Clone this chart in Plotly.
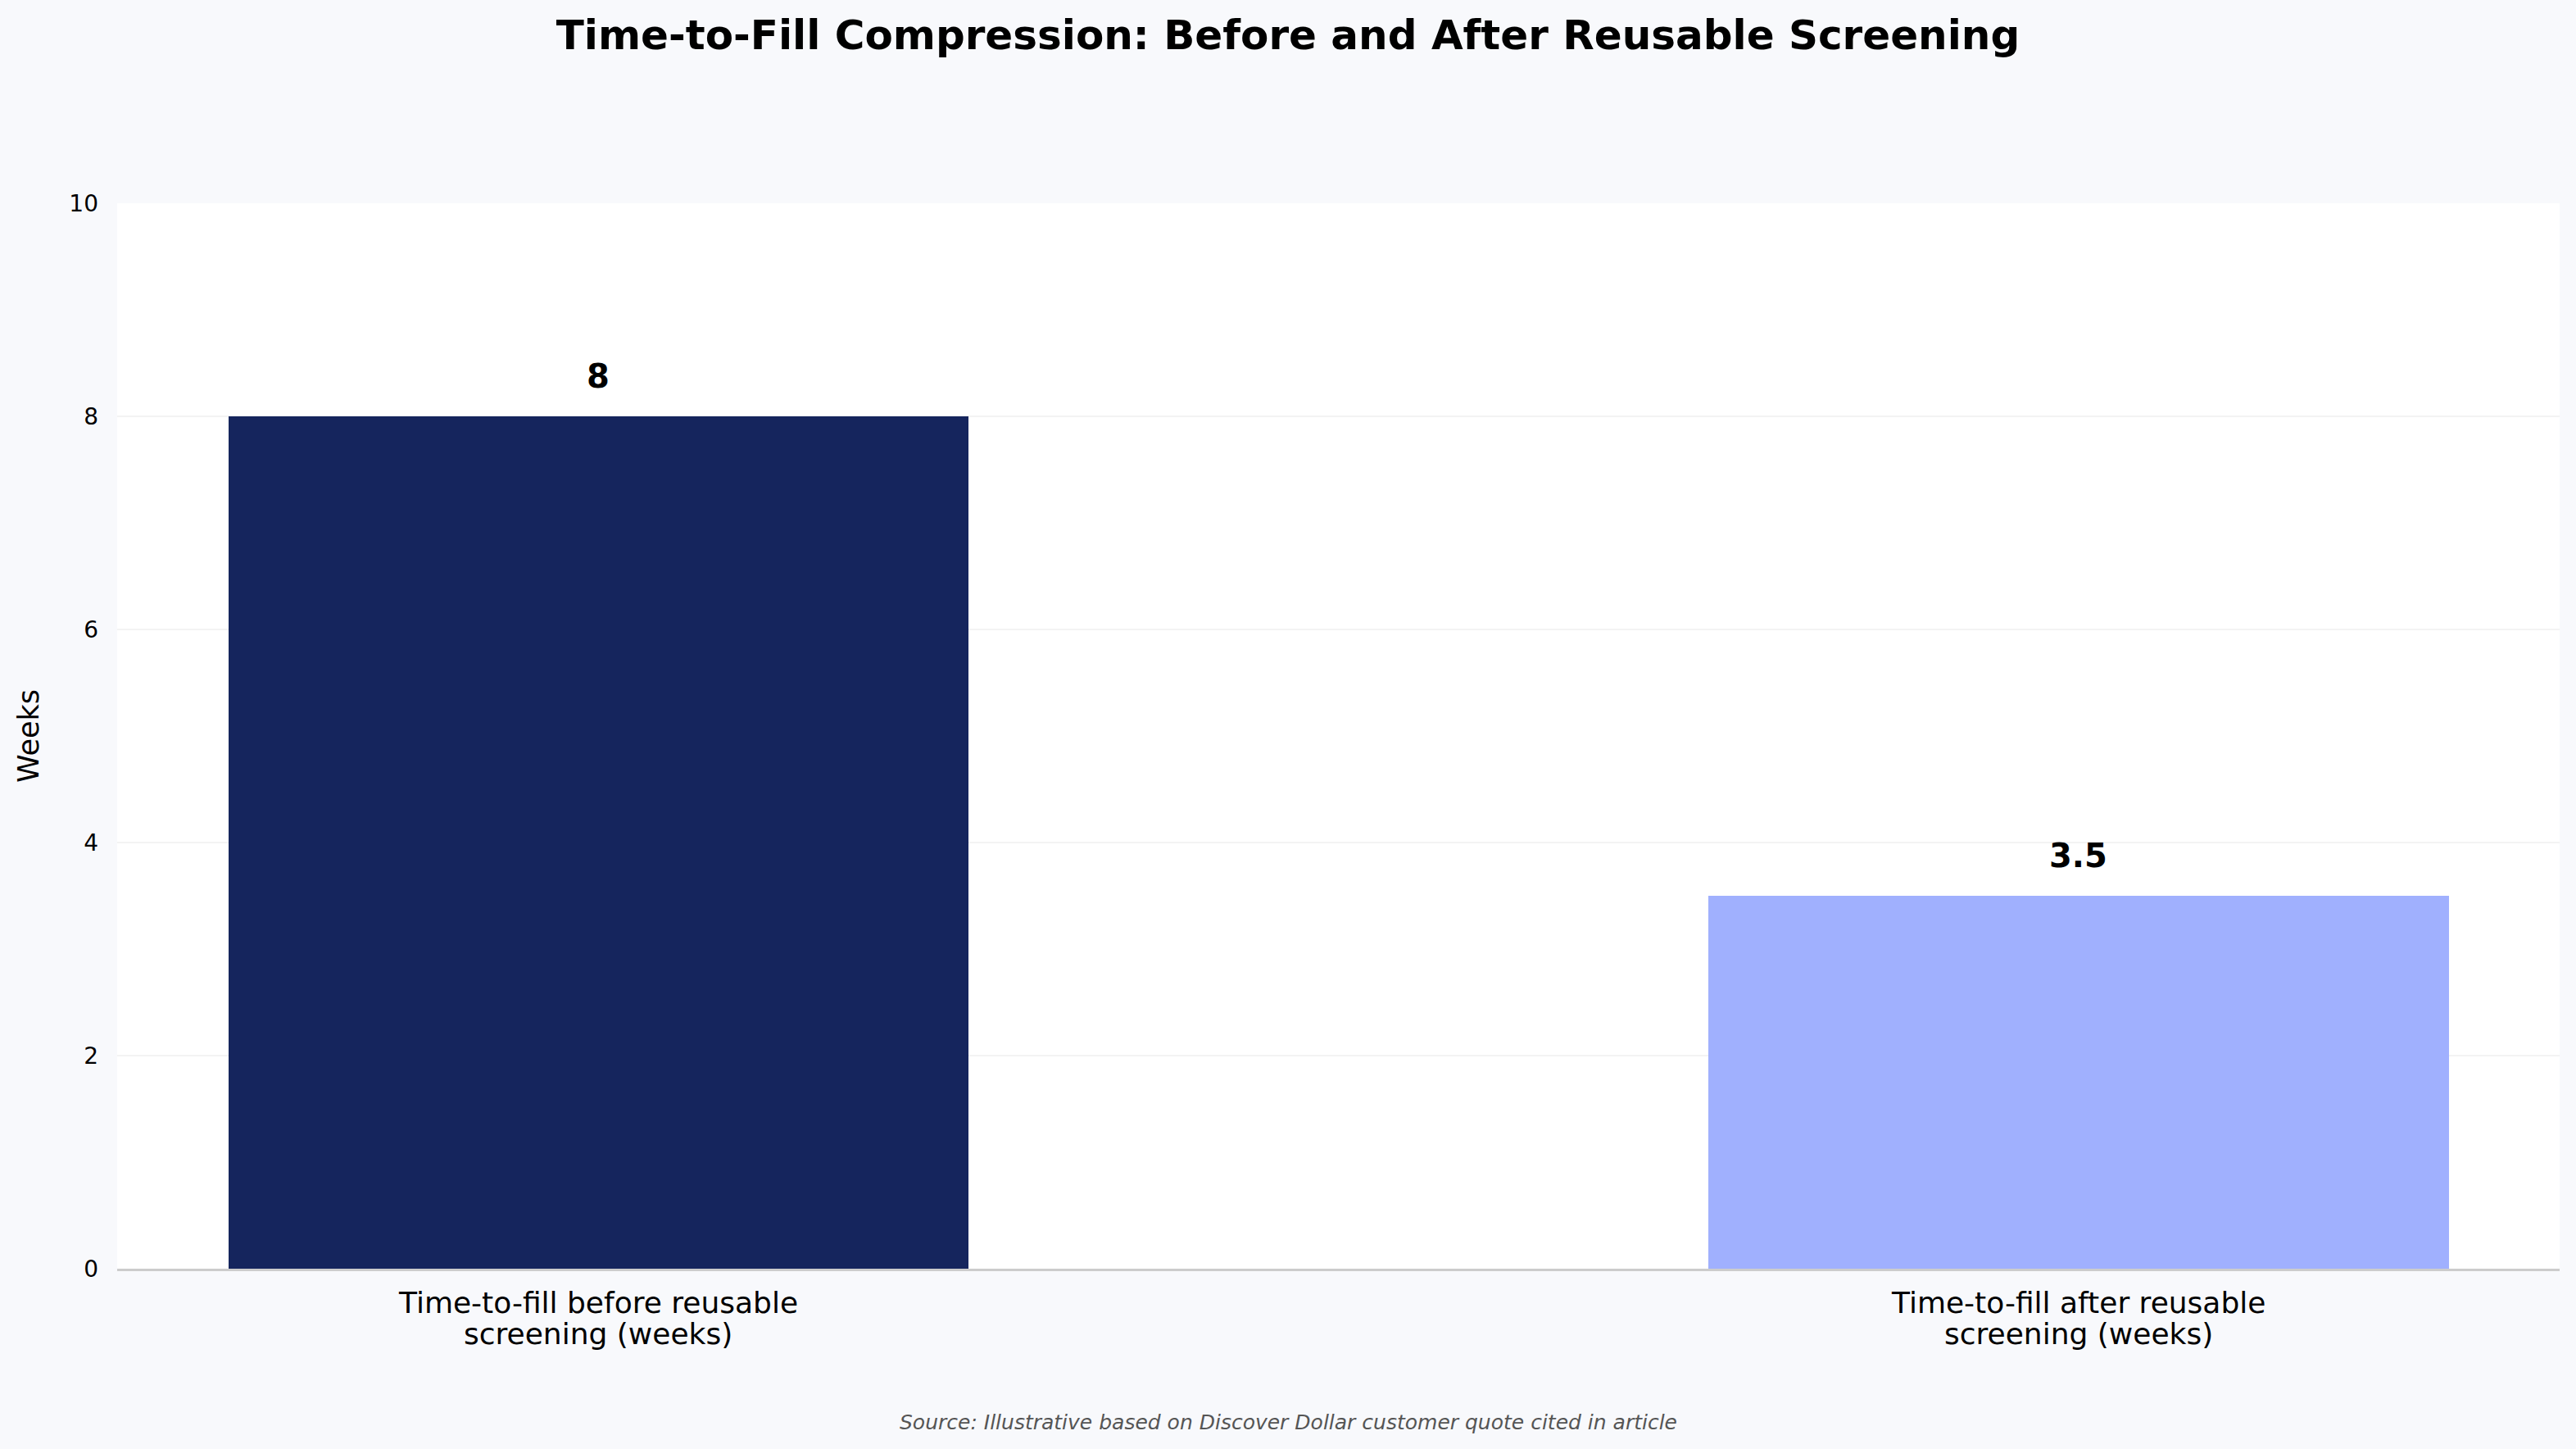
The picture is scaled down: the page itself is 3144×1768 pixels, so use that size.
import plotly.graph_objects as go

category_lines = [["Time-to-fill before reusable", "screening (weeks)"],
                  ["Time-to-fill after reusable", "screening (weeks)"]]
values = [8, 3.5]
value_labels = ["8", "3.5"]
colors = ["#15255d", "#a0b0fe"]
y_ticks = [0, 2, 4, 6, 8, 10]

FONT = "DejaVu Sans"
W, H = 3144, 1768
L, R, T, B = 143, 20, 248, 220
PW, PH = W - L - R, H - T - B


def px_to_paper_y(py):
    return (H - B - py) / PH


def px_to_paper_x(px):
    return (px - L) / PW


fig = go.Figure()
fig.add_trace(go.Bar(
    x=[0, 1], y=values, width=0.5,
    marker=dict(color=colors, line=dict(width=0)),
    showlegend=False, hoverinfo="skip",
))

for i, (v, t) in enumerate(zip(values, value_labels)):
    fig.add_annotation(x=i, y=v, text=f"<b>{t}</b>", showarrow=False,
                       yanchor="bottom", yshift=24,
                       font=dict(family=FONT, size=40, color="#000000"))

# category labels (two lines each, matplotlib-like tight line spacing)
line_centers = [1589, 1627]
for i, lines in enumerate(category_lines):
    for ln, yc in zip(lines, line_centers):
        fig.add_annotation(x=i, xref="x", y=px_to_paper_y(yc), yref="paper",
                           text=ln, showarrow=False, yanchor="middle",
                           font=dict(family=FONT, size=36, color="#000000"))

fig.add_annotation(x=px_to_paper_x(W / 2), y=px_to_paper_y(1735), xref="paper", yref="paper",
                   text="<i>Source: Illustrative based on Discover Dollar customer quote cited in article</i>",
                   showarrow=False, yanchor="middle",
                   font=dict(family=FONT, size=25, color="#555555"))

fig.update_layout(
    width=W, height=H, autosize=False,
    paper_bgcolor="#f8f9fc", plot_bgcolor="#ffffff",
    margin=dict(l=L, r=R, t=T, b=B, pad=0),
    font=dict(family=FONT, color="#000000"),
    title=dict(text="<b>Time-to-Fill Compression: Before and After Reusable Screening</b>",
               x=0.5, xanchor="center", y=1 - 42 / H, yanchor="middle",
               font=dict(family=FONT, size=50, color="#000000")),
    bargap=0,
)

fig.update_xaxes(
    range=[-0.325, 1.325], tickmode="array", tickvals=[0, 1], ticktext=["", ""],
    showticklabels=False,
    showgrid=False, zeroline=False, showline=True, linecolor="#cccccc", linewidth=3,
    ticks="",
)
fig.update_yaxes(
    range=[0, 10], tickmode="array", tickvals=y_ticks, ticktext=[str(t) for t in y_ticks],
    showgrid=True, gridcolor="#f3f3f3", gridwidth=2, zeroline=False, showline=False,
    ticks="", ticklabelstandoff=22,
    tickfont=dict(family=FONT, size=28, color="#000000"),
    title=dict(text="Weeks", standoff=26, font=dict(family=FONT, size=35, color="#000000")),
)

fig.write_html("out.html")
